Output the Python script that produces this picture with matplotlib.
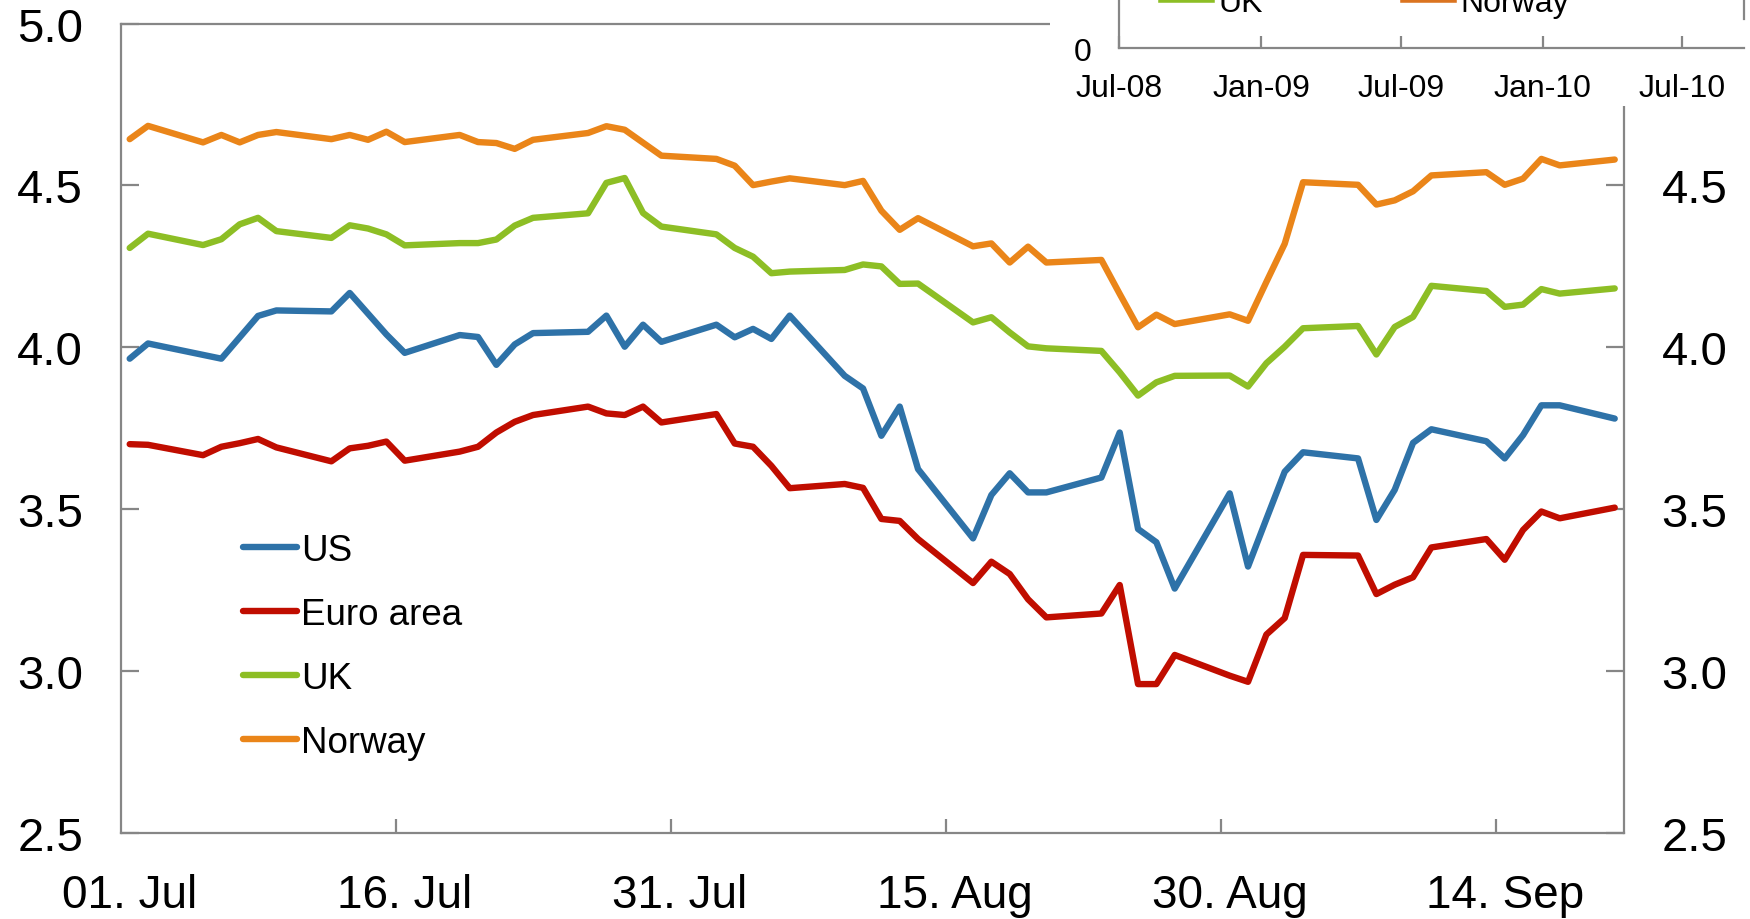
import matplotlib
matplotlib.use("Agg")
import matplotlib.pyplot as plt
import matplotlib.dates as mdates
import numpy as np
import pandas as pd
from matplotlib.lines import Line2D
from matplotlib.patches import Rectangle

plt.rcParams['font.family'] = ['Liberation Sans', 'DejaVu Sans']

# ---------------- data ----------------
dates = ["2010-07-01", "2010-07-02", "2010-07-05", "2010-07-06", "2010-07-07", "2010-07-08", "2010-07-09",
         "2010-07-12", "2010-07-13", "2010-07-14", "2010-07-15", "2010-07-16",
         "2010-07-19", "2010-07-20", "2010-07-21", "2010-07-22", "2010-07-23",
         "2010-07-26", "2010-07-27", "2010-07-28", "2010-07-29", "2010-07-30",
         "2010-08-02", "2010-08-03", "2010-08-04", "2010-08-05", "2010-08-06",
         "2010-08-09", "2010-08-10", "2010-08-11", "2010-08-12", "2010-08-13",
         "2010-08-16", "2010-08-17", "2010-08-18", "2010-08-19", "2010-08-20",
         "2010-08-23", "2010-08-24", "2010-08-25", "2010-08-26", "2010-08-27",
         "2010-08-30", "2010-08-31", "2010-09-01", "2010-09-02", "2010-09-03",
         "2010-09-06", "2010-09-07", "2010-09-08", "2010-09-09", "2010-09-10",
         "2010-09-13", "2010-09-14", "2010-09-15", "2010-09-16", "2010-09-17",
         "2010-09-20"]

us = [3.965, 4.012, None, 3.965, 4.031, 4.097, 4.114,
      4.111, 4.168, 4.104, 4.040, 3.983,
      4.038, 4.032, 3.946, 4.009, 4.044,
      4.048, 4.098, 4.002, 4.070, 4.017,
      4.070, 4.031, 4.057, 4.026, 4.098,
      3.912, 3.873, 3.727, 3.817, 3.624,
      3.410, 3.544, 3.611, 3.552, 3.552,
      3.598, 3.737, 3.439, 3.398, 3.255,
      3.549, 3.323, 3.470, 3.616, 3.676,
      3.657, 3.467, 3.560, 3.705, 3.747,
      3.710, 3.657, 3.729, 3.821, 3.821,
      3.780]

euro = [3.701, 3.699, 3.667, 3.693, 3.704, 3.717, 3.691,
        3.648, 3.688, 3.696, 3.709, 3.650,
        3.678, 3.693, 3.737, 3.770, 3.791,
        3.817, 3.796, 3.791, 3.817, 3.768,
        3.794, 3.703, 3.693, 3.634, 3.565,
        3.578, 3.566, 3.470, 3.464, 3.408,
        3.272, 3.338, 3.300, 3.222, 3.166,
        3.178, 3.266, 2.960, 2.960, 3.050,
        2.986, 2.967, 3.113, 3.164, 3.359,
        3.357, 3.238, 3.267, 3.290, 3.382,
        3.408, 3.344, 3.436, 3.493, 3.472,
        3.505]

uk = [4.307, 4.351, 4.316, 4.334, 4.380, 4.400, 4.359,
      4.338, 4.377, 4.367, 4.349, 4.315,
      4.322, 4.322, 4.333, 4.376, 4.400,
      4.414, 4.508, 4.523, 4.415, 4.373,
      4.349, 4.307, 4.280, 4.229, 4.234,
      4.239, 4.256, 4.250, 4.196, 4.197,
      4.077, 4.093, 4.046, 4.003, 3.997,
      3.989, 3.923, 3.851, 3.892, 3.912,
      3.913, 3.879, 3.951, 4.002, 4.059,
      4.066, 3.978, 4.063, 4.094, 4.190,
      4.174, 4.125, 4.132, 4.180, 4.166,
      4.182]

norway = [4.643, 4.684, 4.633, 4.656, 4.633, 4.656, 4.665,
          4.643, 4.656, 4.641, 4.666, 4.634,
          4.656, 4.634, 4.631, 4.613, 4.641,
          4.662, 4.683, 4.672, 4.632, 4.592,
          4.582, 4.561, 4.501, 4.512, 4.522,
          4.501, 4.514, 4.422, 4.363, 4.399,
          4.312, 4.321, 4.262, 4.311, 4.262,
          4.270, 4.165, 4.062, 4.101, 4.072,
          4.102, 4.082, 4.202, 4.320, 4.510,
          4.502, 4.441, 4.454, 4.482, 4.531,
          4.541, 4.502, 4.521, 4.582, 4.562,
          4.580]

series_names = ["US", "Euro area", "UK", "Norway"]
series_colors = ["#2E72A8", "#C00D00", "#8DBE25", "#EA8519"]

x_tick_dates = ["2010-07-01", "2010-07-16", "2010-07-31", "2010-08-15", "2010-08-30", "2010-09-14"]
x_tick_labels = ["01. Jul", "16. Jul", "31. Jul", "15. Aug", "30. Aug", "14. Sep"]
y_ticks = [2.5, 3.0, 3.5, 4.0, 4.5, 5.0]

inset_tick_dates = ["2008-07-01", "2009-01-01", "2009-07-01", "2010-01-01", "2010-07-01"]
inset_tick_labels = ["Jul-08", "Jan-09", "Jul-09", "Jan-10", "Jul-10"]
inset_names = ["UK", "Norway"]
inset_colors = ["#8DBE25", "#DB7420"]

# ---------------- figure ----------------
W, H = 1568.0, 824.0   # layout reference size
fig = plt.figure(figsize=(17.5, 9.2), dpi=100)
fig.patch.set_facecolor("white")

ax = fig.add_axes([108 / W, 1 - 747 / H, (1455 - 108) / W, (747 - 22) / H])
gray = "#868686"

xd = pd.to_datetime(dates) + pd.Timedelta(hours=12)
for vals, name, col in zip([us, euro, uk, norway], series_names, series_colors):
    s = pd.Series(vals, index=xd, dtype=float).dropna()
    ax.plot(s.index, s.values, color=col, lw=4.6, solid_joinstyle="round",
            solid_capstyle="round", label=name, zorder=3)

ax.set_xlim(pd.Timestamp("2010-07-01"), pd.Timestamp("2010-09-21"))
ax.set_ylim(2.5, 5.0)

tick_pos = pd.to_datetime(x_tick_dates)
ax.set_xticks(tick_pos[1:])
ax.set_xticklabels([])
ax.set_xticks(tick_pos + pd.Timedelta(hours=12), minor=True)
ax.set_xticklabels(x_tick_labels, minor=True)
ax.tick_params(axis="x", which="major", direction="in", length=10, width=1.6, color=gray)
ax.tick_params(axis="x", which="minor", length=0, pad=29, labelsize=33)

ax.set_yticks(y_ticks)
ax.set_yticklabels([f"{v:.1f}" for v in y_ticks])
ax.tick_params(axis="y", direction="in", length=13, width=1.6, color=gray,
               left=True, right=True, labelleft=True, labelright=True,
               labelsize=34, pad=27)

for sp in ax.spines.values():
    sp.set_color(gray)
    sp.set_linewidth(1.6)

leg = ax.legend(loc="upper left", bbox_to_anchor=(218 / W, 1 - 478 / H),
                bbox_transform=fig.transFigure, frameon=False, fontsize=26.5,
                handlelength=1.45, handletextpad=0.12, labelspacing=0.79,
                borderpad=0, borderaxespad=0)

# ---------------- overlapping inset (cropped chart) ----------------
fig.add_artist(Rectangle((941 / W, 1 - 96 / H), 1 - 941 / W, 96 / H,
                         transform=fig.transFigure, facecolor="white",
                         edgecolor="none", zorder=5))

axi = fig.add_axes([1003 / W, 1 - 44 / H, (1563 - 1003) / W, 0.2], zorder=10)
axi.patch.set_alpha(0)
axi.set_xlim(pd.Timestamp("2008-07-01"), pd.Timestamp("2010-09-20"))
axi.set_ylim(0, 5)
axi.set_yticks([0])
axi.set_yticklabels(["0"])
axi.set_xticks(pd.to_datetime(inset_tick_dates))
axi.set_xticklabels(inset_tick_labels)
axi.tick_params(axis="x", direction="in", length=9, width=1.6, color=gray,
                labelsize=23, pad=18)
axi.tick_params(axis="y", direction="in", length=0, labelsize=23, pad=20)
axi.spines["top"].set_visible(False)
axi.spines["right"].set_visible(False)
for k in ["left", "bottom"]:
    axi.spines[k].set_color(gray)
    axi.spines[k].set_linewidth(1.6)

inset_handles = [Line2D([], [], color=c, lw=4) for c in inset_colors]
fig.legend(inset_handles, inset_names, loc="center left",
           bbox_to_anchor=(1040 / W, 1 - 4 / H), ncol=2, frameon=False,
           fontsize=23, handlelength=1.6, handletextpad=0.2, columnspacing=4.4,
           borderpad=0, borderaxespad=0).set_zorder(11)

fig.add_artist(Line2D([1563 / W, 1563 / W], [1.0, 1 - 18 / H],
                      transform=fig.transFigure, color=gray, lw=1.6, zorder=11))

fig.savefig("out.png", dpi=100, facecolor="white")
